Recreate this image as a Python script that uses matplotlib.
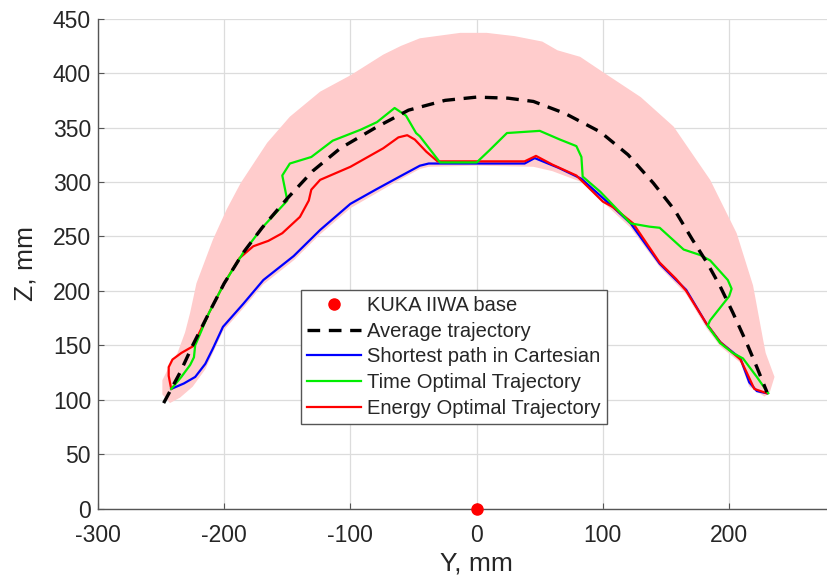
import numpy as np
import matplotlib
matplotlib.use('Agg')
import matplotlib.pyplot as plt

plt.rcParams['font.family'] = ['Liberation Sans', 'DejaVu Sans']
plt.rcParams['axes.unicode_minus'] = False

# average trajectory (black dashed)
avg_y = [-248, -235, -225, -212, -200, -185, -170, -150, -130, -108, -80, -54, -25, 0,
         25, 45, 70, 98, 120, 140, 157, 171, 183, 193, 203, 214, 222, 230]
avg_z = [97, 125, 150, 180, 207, 235, 258, 285, 310, 331, 350, 366, 375, 378,
         377, 374, 363, 346, 325, 299, 274, 247, 225, 204, 180, 152, 130, 107]

# shortest path in cartesian (blue)
short_y = [-242, -232, -223, -215, -209, -201, -185, -169, -145, -124, -100, -80, -61, -45,
           -38, 0, 38, 46, 65, 83, 108, 122, 145, 158, 166, 182, 193, 209, 216, 222, 230]
short_z = [110, 115, 121, 133, 147, 167, 188, 210, 232, 256, 280, 293, 305, 315,
           317, 317, 317, 322, 313, 303, 277, 262, 225, 210, 201, 170, 153, 138, 116, 108, 106]

# time optimal (green)
time_y = [-242, -234, -227, -224, -223, -212, -200, -185, -170, -150, -154, -148, -131, -114,
          -92, -79, -65, -56, -48, -45, -29, 0, 10, 24, 50, 66, 79, 83, 84, 98, 122,
          137, 145, 164, 177, 185, 199, 202, 200, 185, 183, 193, 203, 211, 222, 231]
time_z = [110, 121, 132, 139, 150, 180, 207, 235, 258, 283, 306, 317, 323, 338,
          348, 355, 368, 361, 345, 342, 318, 318, 329, 345, 347, 339, 333, 323, 305, 291, 262,
          259, 258, 238, 233, 228, 210, 202, 195, 173, 168, 152, 143, 138, 121, 106]

# energy optimal (red)
energy_y = [-242, -244, -244, -241, -234, -225, -212, -200, -188, -177, -165, -154, -140, -133,
            -131, -124, -100, -74, -62, -55, -49, -40, -31, 0, 38, 47, 60, 79, 100, 108, 124,
            145, 158, 166, 182, 193, 209, 214, 220, 230]
energy_z = [110, 122, 130, 137, 143, 149, 180, 207, 230, 241, 246, 253, 268, 283,
            293, 302, 314, 331, 341, 343, 339, 328, 319, 319, 319, 324, 316, 306, 282, 277, 262,
            226, 211, 200, 170, 153, 137, 125, 110, 106]

# envelope of all trajectories (pink band)
outer_y = [-243, -249, -249, -243, -237, -231, -227, -222, -209, -198, -187, -166, -148, -124,
           -100, -74, -60, -45, -13, 8, 30, 52, 64, 82, 100, 130, 156, 185, 206, 219, 227,
           229, 236, 232]
outer_z = [97, 105, 118, 132, 143, 162, 180, 207, 247, 275, 299, 336, 360, 383,
           398, 417, 425, 432, 437, 437, 434, 429, 421, 415, 401, 378, 351, 302, 253, 205, 155,
           143, 121, 106]
inner_y = [228, 216, 209, 193, 182, 166, 145, 122, 108, 83, 60, 45, 0, -38, -45, -61, -100,
           -124, -145, -169, -185, -201, -209, -215, -225, -235, -243]
inner_z = [103, 112, 134, 149, 166, 197, 222, 258, 273, 300, 310, 314, 315, 314, 312, 302, 276,
           252, 228, 206, 184, 163, 143, 128, 112, 102, 97]

base_y = [0]
base_z = [0]

fig = plt.figure(figsize=(8.27, 5.83), dpi=100)
ax = fig.add_axes([98 / 827, 1 - 508.7 / 583, 1 - 98 / 827, (508.7 - 18.7) / 583])

ax.fill(np.concatenate([outer_y, inner_y]), np.concatenate([outer_z, inner_z]),
        color='#ffcccc', lw=0, zorder=1)

ax.plot(base_y, base_z, 'o', color='#ff0000', ms=8, clip_on=False, zorder=6,
        label='KUKA IIWA base')
ax.plot(avg_y, avg_z, color='black', lw=2.4, dashes=(3.8, 2.6), zorder=5,
        label='Average trajectory')
ax.plot(short_y, short_z, color='#0000ff', lw=1.6, zorder=3,
        label='Shortest path in Cartesian')
ax.plot(time_y, time_z, color='#00ee00', lw=1.6, zorder=4,
        label='Time Optimal Trajectory')
ax.plot(energy_y, energy_z, color='#ff0000', lw=1.6, zorder=3,
        label='Energy Optimal Trajectory')

xmax = (827 - 476.7) / 1.262
ax.set_xlim(-300, xmax)
ax.set_ylim(0, 450)
ax.set_xticks([-300, -200, -100, 0, 100, 200])
ax.set_yticks(np.arange(0, 451, 50))
ax.grid(True, color='#dcdcdc', lw=0.9)
ax.set_axisbelow(True)

for s in ['top', 'right']:
    ax.spines[s].set_visible(False)
for s in ['left', 'bottom']:
    ax.spines[s].set_color('#555555')
    ax.spines[s].set_linewidth(1.0)
ax.tick_params(direction='in', length=4, width=0.8, color='#555555',
               labelsize=16.5, labelcolor='#262626')
ax.tick_params(axis='y', pad=5)
ax.tick_params(axis='x', pad=11)

ax.set_xlabel('Y, mm', fontsize=19, color='#262626')
ax.set_ylabel('Z, mm', fontsize=19, color='#262626')
ax.xaxis.set_label_coords(300 / (xmax + 300), -0.087)
ax.yaxis.set_label_coords(-0.083, 0.5)

leg = ax.legend(loc='upper left', bbox_to_anchor=(301 / 827, 1 - 290 / 583),
                bbox_transform=fig.transFigure, fontsize=14.5, frameon=True,
                fancybox=False, framealpha=1, edgecolor='#555555',
                handlelength=2.7, handletextpad=0.3, labelspacing=0.33,
                borderpad=0.3, borderaxespad=0)
leg.get_frame().set_linewidth(1.0)
for t in leg.get_texts():
    t.set_color('#262626')

fig.savefig('out.png', dpi=100)
